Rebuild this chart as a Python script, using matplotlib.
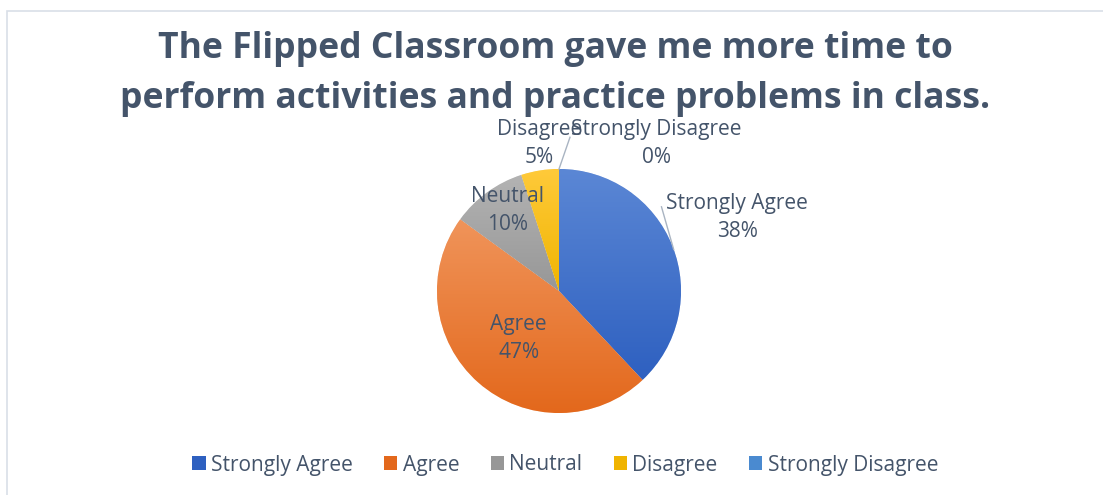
import numpy as np
import matplotlib.pyplot as plt
from matplotlib.colors import to_rgb
from matplotlib.patches import Patch, Rectangle

plt.rcParams["font.family"] = ["Open Sans", "DejaVu Sans"]

TEXT = "#44546A"

title = "The Flipped Classroom gave me more time to\nperform activities and practice problems in class."
categories = ["Strongly Agree", "Agree", "Neutral", "Disagree", "Strongly Disagree"]
percent = [38, 47, 10, 5, 0]
# (top, bottom) shade of each slice's gradient fill
shades = [("#5B87D5", "#2E60C0"),
          ("#F0945A", "#E3681C"),
          ("#B3B3B3", "#979797"),
          ("#FFCA3A", "#F0B400"),
          ("#6FA8DC", "#4A8AD0")]
# label centres, in pie radii from the centre
label_pos = [(1.46, 0.60), (-0.33, -0.39), (-0.42, 0.66), (-0.16, 1.21), (0.80, 1.21)]

W, H = 1103, 495
cx, cy, rad = 559, 291, 122  # pie centre / radius in pixels

fig = plt.figure(figsize=(W / 100, H / 100), dpi=100)
fig.patch.set_facecolor("white")
fig.patches.append(Rectangle((7 / W, -0.05), 1.2, (H - 11) / H + 0.05,
                             transform=fig.transFigure, fill=False,
                             edgecolor="#D9DFE7", linewidth=1.2))

ax = fig.add_axes([0, 0, 1, 1])
wedges, _ = ax.pie(percent, startangle=90, counterclock=False,
                   colors=[s[1] for s in shades],
                   wedgeprops=dict(edgecolor="white", linewidth=0.4))

# vertical gradient clipped to every slice
for w, (top, bot) in zip(wedges, shades):
    if w.theta2 - w.theta1 <= 0:
        continue
    bb = w.get_path().get_extents()
    t = np.linspace(0, 1, 256)[:, None, None]
    grad = (1 - t) * np.array(to_rgb(top)) + t * np.array(to_rgb(bot))
    im = ax.imshow(grad, extent=(bb.x0, bb.x1, bb.y0, bb.y1), origin="upper",
                   aspect="auto", zorder=w.get_zorder() + 0.1, interpolation="bilinear")
    im.set_clip_path(w)

ax.set_xlim(-cx / rad, (W - cx) / rad)
ax.set_ylim(-(H - cy) / rad, cy / rad)
ax.set_aspect("auto")
ax.axis("off")

for name, val, (lx, ly) in zip(categories, percent, label_pos):
    ax.text(lx, ly, f"{name}\n{val}%", ha="center", va="center",
            fontsize=15, color=TEXT, linespacing=1.45, zorder=5)

# leader lines
ax.plot([0.84, 0.94], [0.69, 0.34], color="#A9B4C2", lw=1.0, zorder=4)
ax.plot([0.09, 0.0], [1.26, 1.0], color="#A9B4C2", lw=1.0, zorder=4)

fig.text(555 / W, 1 - 74 / H, title, ha="center", va="center",
         fontsize=25.6, fontweight="bold", color=TEXT, linespacing=1.52)

handles = [Patch(facecolor=s[1], edgecolor="none") for s in shades]
fig.legend(handles, categories, ncol=5, loc="center",
           bbox_to_anchor=(565 / W, 30 / H), frameon=False,
           fontsize=15, labelcolor=TEXT, handlelength=0.65, handleheight=0.65,
           handletextpad=0.25, columnspacing=1.5)

fig.savefig("out.png", dpi=100)
